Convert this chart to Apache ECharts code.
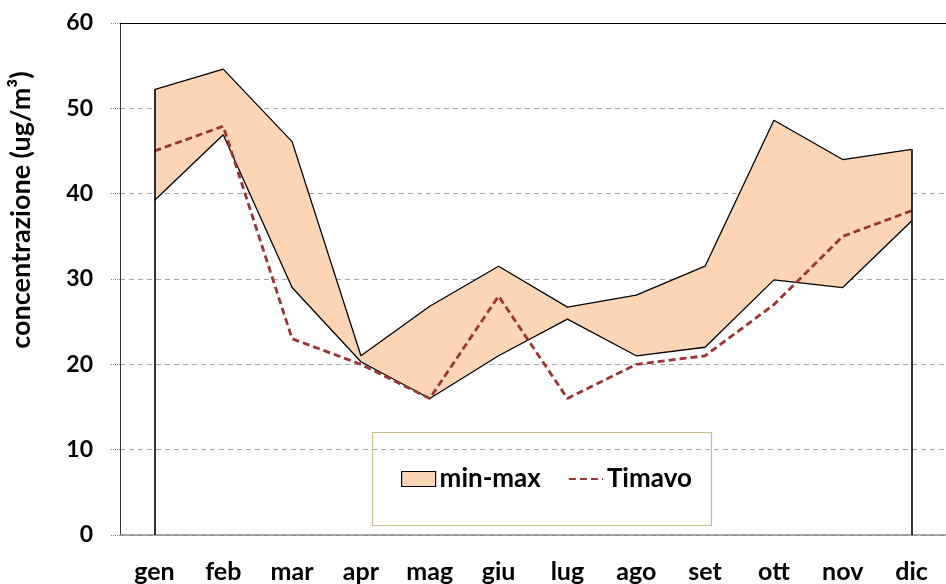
<!DOCTYPE html>
<html>
<head>
<meta charset="utf-8">
<script src="https://cdn.jsdelivr.net/npm/echarts@6/dist/echarts.min.js"></script>
<style>
  html, body { margin: 0; padding: 0; background: #fff; }
  #chart { width: 946px; height: 584px; }
</style>
</head>
<body>
<div id="chart"></div>
<script>
const months = ["gen", "feb", "mar", "apr", "mag", "giu", "lug", "ago", "set", "ott", "nov", "dic"];
const minValues = [39.2, 46.9, 29.0, 20.3, 16.0, 21.0, 25.3, 21.0, 22.0, 29.9, 29.0, 36.8];
const maxValues = [52.2, 54.6, 46.1, 21.0, 26.8, 31.5, 26.7, 28.1, 31.5, 48.6, 44.0, 45.2];
const timavo = [45.0, 47.9, 23.0, 20.0, 16.0, 28.0, 16.0, 20.0, 21.0, 27.0, 35.0, 38.0];
const yTicks = [0, 10, 20, 30, 40, 50, 60];

const FONT = "Lato, 'Open Sans', sans-serif";
const BAND = "#fbd5b5";
const TIMAVO = "#963634";

// band thickness stacked on top of the min line
const spread = maxValues.map((v, i) => +(v - minValues[i]).toFixed(2));
const last = months.length - 1;

const chart = echarts.init(document.getElementById("chart"));

chart.setOption({
  animation: false,
  backgroundColor: "#fff",
  grid: { left: 120, top: 23, right: -7, bottom: 45 },
  xAxis: [
    {
      type: "category",
      data: months,
      axisLine: { lineStyle: { color: "#8c8c8c", width: 1.5 } },
      axisTick: { length: 9, lineStyle: { color: "#8c8c8c", width: 1.2 } },
      axisLabel: { color: "#000", fontFamily: FONT, fontWeight: "bold", fontSize: 25, margin: 24 },
      splitLine: { show: false }
    },
    {
      type: "category",
      position: "top",
      data: months,
      axisLine: { lineStyle: { color: "#000", width: 1.2 } },
      axisTick: { show: false },
      axisLabel: { show: false }
    }
  ],
  yAxis: {
    type: "value",
    min: yTicks[0],
    max: yTicks[yTicks.length - 1],
    interval: 10,
    axisLine: { show: true, lineStyle: { color: "#333", width: 1 } },
    axisTick: { show: true, length: 9, lineStyle: { color: "#888", type: "dotted" } },
    axisLabel: { color: "#000", fontFamily: FONT, fontWeight: "bold", fontSize: 23, margin: 27 },
    splitLine: { lineStyle: { color: "#a6a6a6", type: [5, 4], width: 1 } }
  },
  graphic: [
    {
      type: "text",
      x: 21,
      y: 210,
      rotation: Math.PI / 2,
      style: {
        text: "concentrazione (ug/m³)",
        fill: "#000",
        font: "bold 27px " + FONT,
        textAlign: "center",
        textVerticalAlign: "middle"
      }
    },
    {
      type: "rect",
      shape: { x: 372.5, y: 432.5, width: 339, height: 93 },
      style: { fill: "#fff", stroke: "#c9bd8e", lineWidth: 1.2 },
      z: 0
    }
  ],
  legend: {
    left: 401,
    top: 465,
    padding: 0,
    itemWidth: 34,
    itemHeight: 15,
    itemGap: 27,
    textStyle: { color: "#000", fontFamily: FONT, fontWeight: "bold", fontSize: 26, lineHeight: 28, padding: [0, 0, 0, -1] },
    data: [
      { name: "min-max", icon: "rect", itemStyle: { color: BAND, borderColor: "#000", borderWidth: 1.2 } },
      { name: "Timavo", itemStyle: { color: "rgba(0,0,0,0)", borderWidth: 0 } }
    ],
    z: 10
  },
  series: [
    {
      name: "min",
      type: "line",
      stack: "band",
      data: minValues,
      symbol: "none",
      lineStyle: { color: "#000", width: 1.3 },
      z: 3,
      markLine: {
        silent: true,
        symbol: "none",
        label: { show: false },
        lineStyle: { color: "#000", width: 1.6, type: "solid" },
        data: [
          [{ coord: [0, 0] }, { coord: [0, maxValues[0]] }],
          [{ coord: [last, 0] }, { coord: [last, maxValues[last]] }]
        ]
      }
    },
    {
      name: "min-max",
      type: "line",
      stack: "band",
      data: spread,
      symbol: "none",
      lineStyle: { color: "#000", width: 1.3 },
      areaStyle: { color: BAND, opacity: 1 },
      z: 2
    },
    {
      name: "Timavo",
      type: "line",
      data: timavo,
      symbol: "none",
      lineStyle: { color: TIMAVO, width: 2.8, type: [7, 4] },
      itemStyle: { color: TIMAVO },
      z: 4
    }
  ]
});
</script>
</body>
</html>
